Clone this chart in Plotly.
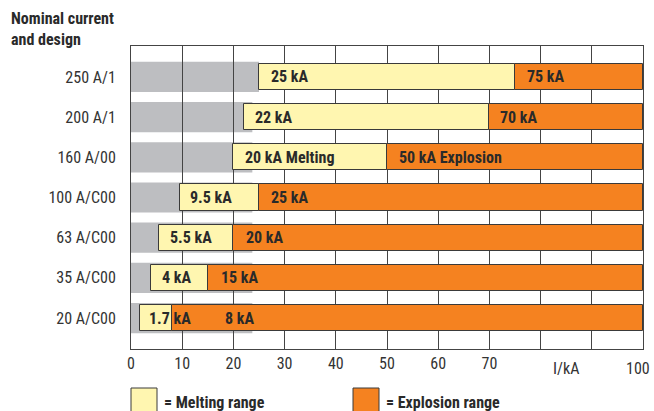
import plotly.graph_objects as go

# ---- data ----
categories = ["20 A/C00", "35 A/C00", "63 A/C00", "100 A/C00", "160 A/00", "200 A/1", "250 A/1"]
melting_start = [1.7, 4, 5.5, 9.5, 20, 22, 25]
explosion_start = [8, 15, 20, 25, 50, 70, 75]
range_end = [100, 100, 100, 100, 100, 100, 100]
gray_extent = [23.7, 23.7, 23.7, 23.7, 23.7, 23.7, 25]
melting_labels = ["1.7 kA", "4 kA", "5.5 kA", "9.5 kA", "20 kA Melting", "22 kA", "25 kA"]
explosion_labels = ["8 kA", "15 kA", "20 kA", "25 kA", "50 kA Explosion", "70 kA", "75 kA"]
x_ticks = [0, 10, 20, 30, 40, 50, 60, 70, 80, 90, 100]
x_ticktext = ["0", "10", "20", "30", "40", "50", "60", "70", "", "", ""]
x_unit_label = "I/kA"
x_last_label = "100"

# ---- style ----
FONT = "Liberation Sans Narrow, Arial Narrow, Roboto Condensed, Roboto, sans-serif"
YELLOW = "#FFF6B0"
ORANGE = "#F58220"
GRAY = "#BDBEC1"
EDGE = "#3a3a3a"
TXT = "#2a2a2a"
explosion_shift = [51, 11, 11, 10, 10, 9, 10]
melting_shift = [7, 9, 9, 8, 10, 9, 10]

W, H = 654, 411
ML, MR, MT, MB = 131, 11, 46, 62

ypos = list(range(len(categories)))

fig = go.Figure()
fig.add_trace(go.Bar(
    y=ypos, x=[e - m for m, e in zip(melting_start, explosion_start)], base=melting_start,
    orientation="h", width=0.65, marker=dict(color=YELLOW, line=dict(color=EDGE, width=1)),
    hoverinfo="skip", showlegend=False))
fig.add_trace(go.Bar(
    y=ypos, x=[r - e for e, r in zip(explosion_start, range_end)], base=explosion_start,
    orientation="h", width=0.65, marker=dict(color=ORANGE, line=dict(color=EDGE, width=1)),
    hoverinfo="skip", showlegend=False))

shapes = []
for i, g in enumerate(gray_extent):
    shapes.append(dict(type="rect", xref="x", yref="y", x0=0, x1=g, y0=i - 0.375, y1=i + 0.375,
                       fillcolor=GRAY, line=dict(width=0), layer="below"))


def px_x(p):
    return (p - ML) / (W - ML - MR)


def px_y(p):
    return (H - MB - p) / (H - MT - MB)


annotations = []
for i in ypos:
    annotations.append(dict(x=melting_start[i], y=i, xref="x", yref="y", text="<b>%s</b>" % melting_labels[i],
                            showarrow=False, xanchor="left", xshift=melting_shift[i],
                            font=dict(family=FONT, size=16, color=TXT)))
    annotations.append(dict(x=explosion_start[i], y=i, xref="x", yref="y", text="<b>%s</b>" % explosion_labels[i],
                            showarrow=False, xanchor="left", xshift=explosion_shift[i],
                            font=dict(family=FONT, size=16, color=TXT)))

annotations.append(dict(x=85, y=0, xref="x", yref="paper", yshift=-19, text=x_unit_label, showarrow=False,
                        yanchor="middle", font=dict(family=FONT, size=16, color="#333")))
annotations.append(dict(x=100, y=0, xref="x", yref="paper", yshift=-19, xshift=9, text=x_last_label,
                        showarrow=False, xanchor="right", yanchor="middle",
                        font=dict(family=FONT, size=16, color="#333")))
annotations.append(dict(x=px_x(9), y=px_y(7), xref="paper", yref="paper", xanchor="left", yanchor="top",
                        text="<b>Nominal current<br>and design</b>", showarrow=False, align="left",
                        font=dict(family=FONT, size=16, color=TXT)))

fig.update_layout(
    width=W, height=H,
    margin=dict(l=ML, r=MR, t=MT, b=MB, autoexpand=False),
    paper_bgcolor="white", plot_bgcolor="white",
    barmode="overlay", bargap=0,
    font=dict(family=FONT, size=16, color="#333"),
    xaxis=dict(range=[0, 100], tickvals=x_ticks, ticktext=x_ticktext, showgrid=True,
               gridcolor="#444", gridwidth=1, zeroline=False, showline=True, linecolor="#444",
               linewidth=1, mirror=True, ticks="", automargin=False,
               tickfont=dict(size=16, family=FONT, color="#333")),
    yaxis=dict(range=[-0.77, 6.77], tickvals=ypos, ticktext=categories, showgrid=False,
               zeroline=False, showline=True, linecolor="#444", linewidth=1, mirror=True,
               ticks="", ticklabelstandoff=11, automargin=False,
               tickfont=dict(size=16, family=FONT, color="#333")),
    shapes=shapes,
    annotations=annotations,
)

legend_items = [("= Melting range", YELLOW, 131), ("= Explosion range", ORANGE, 353)]
for label, color, x0 in legend_items:
    fig.add_shape(type="rect", xref="paper", yref="paper", x0=px_x(x0), x1=px_x(x0 + 26),
                  y0=px_y(388), y1=px_y(414), fillcolor=color, line=dict(color=EDGE, width=1))
    fig.add_annotation(xref="paper", yref="paper", x=px_x(x0 + 31), y=px_y(402), xanchor="left",
                       yanchor="middle", text="<b>%s</b>" % label, showarrow=False,
                       font=dict(family=FONT, size=16, color=TXT))

fig.write_html("out.html", config={"displayModeBar": False},
               post_script="document.body.style.margin='0';document.body.style.overflow='hidden';")
